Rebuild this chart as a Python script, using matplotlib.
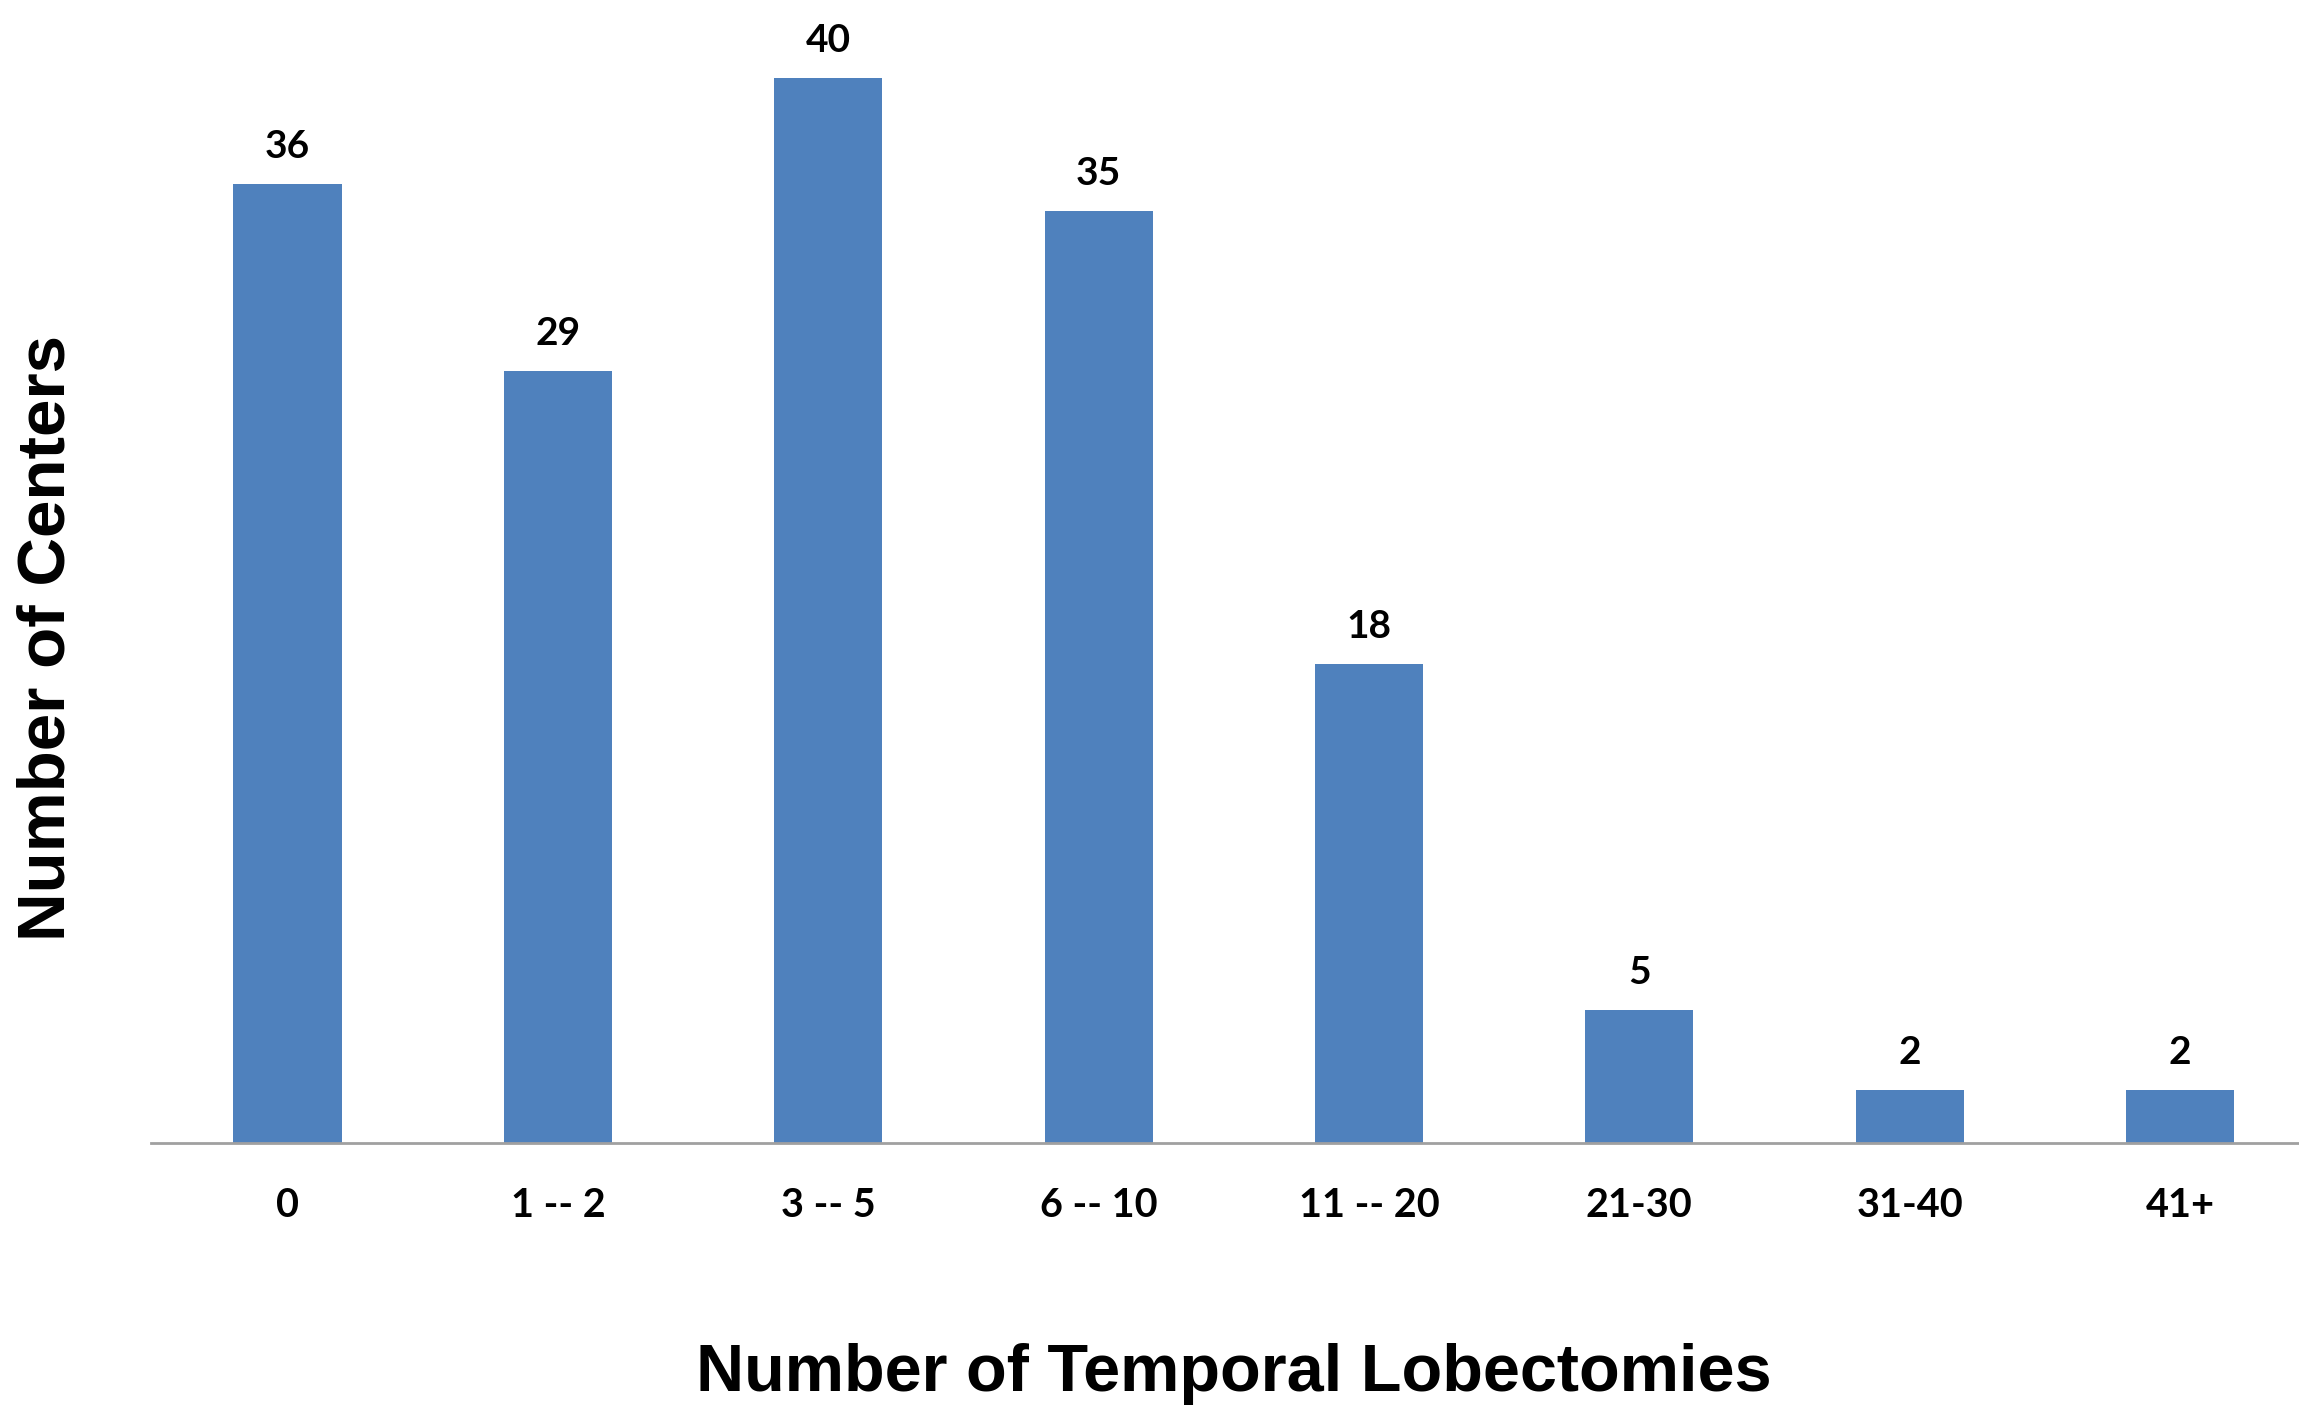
import numpy as np
import matplotlib.pyplot as plt

# data
categories = ['0', '1 -- 2', '3 -- 5', '6 -- 10', '11 -- 20', '21-30', '31-40', '41+']
centers = [36, 29, 40, 35, 18, 5, 2, 2]

lbl_font = ['Lato', 'DejaVu Sans']
axis_font = ['Liberation Sans', 'DejaVu Sans']

fig = plt.figure(figsize=(22.99, 14.08), dpi=100)
ax = fig.add_axes([151 / 2299, 265 / 1408, 1 - 151 / 2299, 1143 / 1408])

x = np.arange(len(categories))
bars = ax.bar(x, centers, width=0.4, color='#4F81BD')

for xi, v in zip(x, centers):
    ax.text(xi, v + 0.75, str(v), ha='center', va='bottom', fontsize=28,
            fontweight='bold', family=lbl_font)

ax.set_xlim(-0.505, 7.44)
ax.set_ylim(0, 42.92)

ax.set_xticks(x)
ax.set_xticklabels(categories, fontsize=28.5, fontweight='bold', family=lbl_font)
ax.tick_params(axis='x', length=0, pad=32)
ax.set_yticks([])

for s in ['top', 'right', 'left']:
    ax.spines[s].set_visible(False)
ax.spines['bottom'].set_color('#A0A0A0')
ax.spines['bottom'].set_linewidth(2)

ax.set_xlabel('Number of Temporal Lobectomies', fontsize=48, fontweight='bold',
              family=axis_font, va='center')
ax.xaxis.set_label_coords(0.504, -0.202)
ax.set_ylabel('Number of Centers', fontsize=48.5, fontweight='bold',
              family=axis_font, va='center')
ax.yaxis.set_label_coords(-0.0484, 0.442)

fig.savefig('out.png', dpi=100)
